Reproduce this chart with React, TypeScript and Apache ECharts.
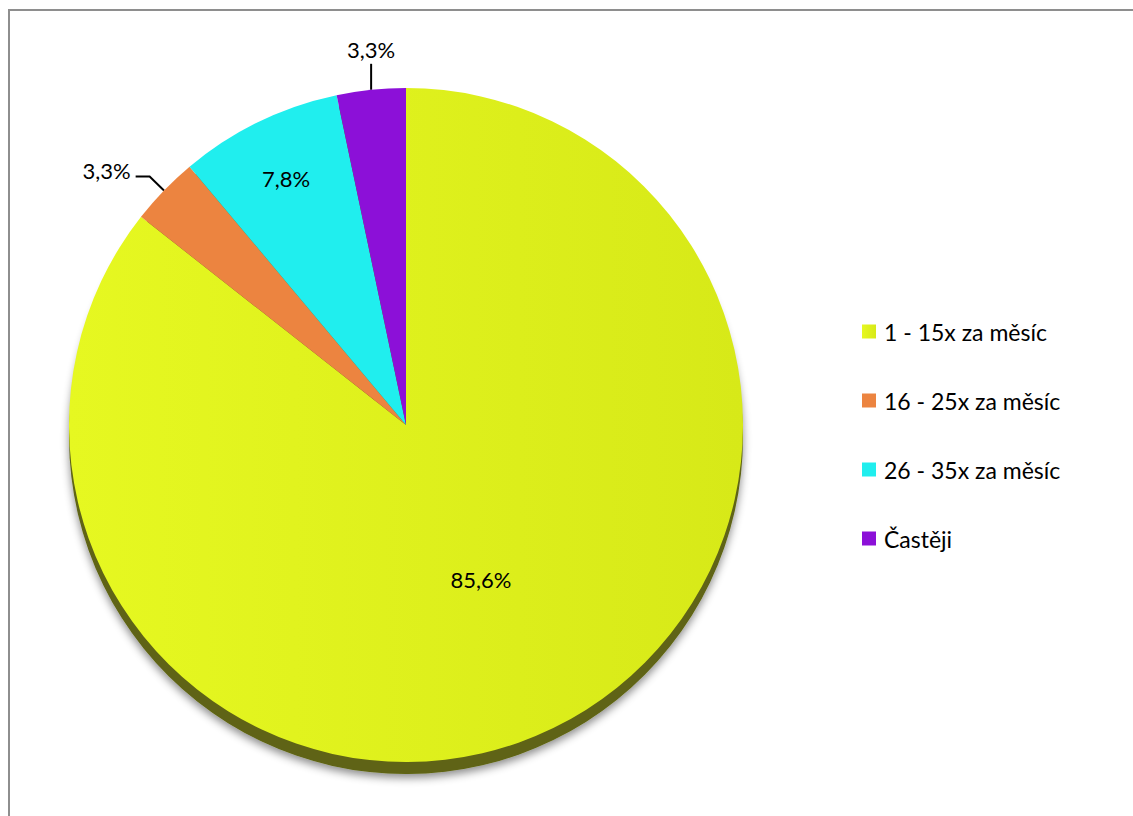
import React, { useEffect, useRef } from "react";
import * as echarts from "echarts";

const categories = ["1 - 15x za měsíc", "16 - 25x za měsíc", "26 - 35x za měsíc", "Častěji"];
const values = [85.6, 3.3, 7.8, 3.3];
const colors = ["#e0f31c", "#ec8440", "#20eeee", "#8c10d8"];

const CX = 406;
const CY = 425;
const R = 337;
const FONT = "Lato, 'Open Sans', sans-serif";
const FS = 23;

export default function App() {
  const ref = useRef<HTMLDivElement>(null);
  useEffect(() => {
    document.body.style.margin = "0";
    const chart = echarts.init(ref.current!, null, { renderer: "svg" });
    const fmt = (p: any) => p.value.toFixed(1).replace(".", ",") + "%";
    const frontData = categories.map((name, i) => {
      const item: any = {
        name,
        value: values[i],
        itemStyle: {
          color:
            i === 0
              ? new echarts.graphic.LinearGradient(0, 0, 1, 0, [
                  { offset: 0, color: "#e6f821" },
                  { offset: 1, color: "#d7e918" },
                ])
              : colors[i],
        },
      };
      if (i === 1 || i === 3) {
        item.label = { position: "outside" };
        item.labelLine = { show: true, length: i === 1 ? 20 : 26, length2: i === 1 ? 14 : 0 };
      } else {
        item.label = { position: "inside" };
        item.labelLine = { show: false };
      }
      return item;
    });
    const backData = categories.map((name, i) => ({
      name,
      value: values[i],
      itemStyle: { color: "#5e6412" },
    }));
    chart.setOption({
      animation: false,
      backgroundColor: "#ffffff",
      graphic: [
        {
          type: "rect",
          shape: { x: 9, y: 10, width: 1140, height: 820 },
          style: { fill: "none", stroke: "#8e8e8e", lineWidth: 2 },
          silent: true,
          z: 0,
        },
      ],
      legend: {
        orient: "vertical",
        left: 862,
        top: 320,
        padding: 0,
        itemWidth: 14,
        itemHeight: 14,
        itemGap: 46,
        icon: "rect",
        data: categories,
        textStyle: {
          fontFamily: FONT,
          fontSize: FS,
          color: "#000",
          padding: [0, 0, 0, 3],
        },
      },
      series: [
        {
          type: "pie",
          z: 3,
          center: [CX, CY],
          radius: R,
          startAngle: 90,
          clockwise: true,
          avoidLabelOverlap: false,
          data: frontData,
          itemStyle: { borderWidth: 0 },
          label: {
            show: true,
            formatter: fmt,
            fontFamily: FONT,
            fontSize: FS - 1,
            color: "#000",
          },
          labelLine: { lineStyle: { color: "#000", width: 2 }, smooth: false },
          emphasis: { disabled: true },
          labelLayout: (p: any) => {
            const lr = p.labelRect;
            if (p.dataIndex === 2) {
              const lx = lr.x + lr.width / 2;
              const ly = lr.y + lr.height / 2;
              return { x: CX + (lx - CX) * 1.6, y: CY + (ly - CY) * 1.6, align: "center", verticalAlign: "middle" };
            }
            if (p.dataIndex === 3 && p.labelLinePoints) {
              const p0 = p.labelLinePoints[0];
              const top = p0[1] - 26;
              return {
                x: p0[0],
                y: top - 3,
                align: "center",
                verticalAlign: "bottom",
                labelLinePoints: [p0, [p0[0], top], [p0[0], top]],
              };
            }
            if (p.dataIndex === 1) {
              return { dy: -6 };
            }
            return {};
          },
        },
        {
          type: "pie",
          z: 1,
          center: [CX, CY + 12],
          radius: R,
          startAngle: 90,
          clockwise: true,
          silent: true,
          data: backData,
          label: { show: false },
          labelLine: { show: false },
          itemStyle: {
            shadowBlur: 8,
            shadowColor: "rgba(0,0,0,0.45)",
            shadowOffsetY: 4,
          },
          emphasis: { disabled: true },
        },
      ],
    });
    return () => chart.dispose();
  }, []);
  return <div ref={ref} style={{ width: 1133, height: 816 }} />;
}
